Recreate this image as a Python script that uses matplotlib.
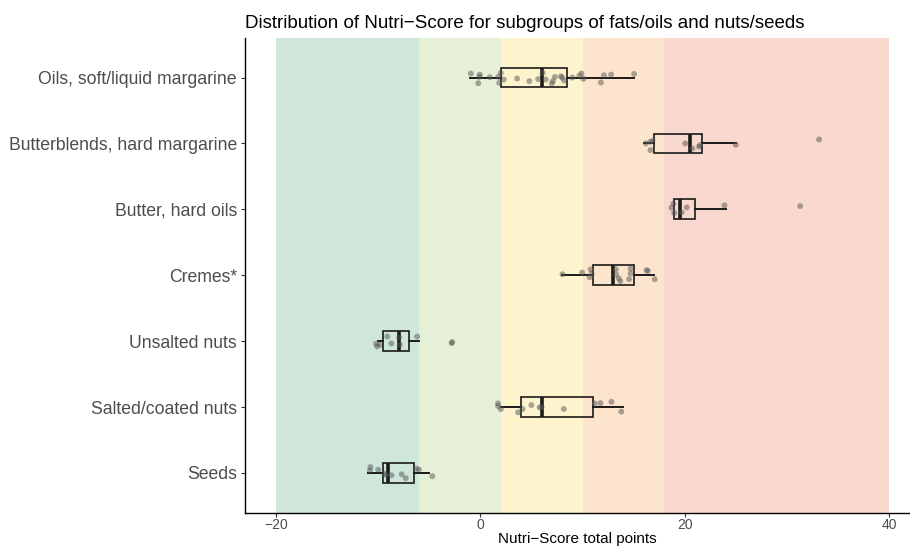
import matplotlib
matplotlib.use("Agg")
import matplotlib.pyplot as plt

plt.rcParams['font.family'] = ['Liberation Sans', 'DejaVu Sans']

categories = ["Oils, soft/liquid margarine", "Butterblends, hard margarine",
              "Butter, hard oils", "Cremes*", "Unsalted nuts",
              "Salted/coated nuts", "Seeds"]

# Box statistics per subgroup: lower whisker, Q1, median, Q3, upper whisker
whisker_lo = [-1, 16, 19, 8, -10, 2, -11]
q1 = [2, 17, 19, 11, -9.5, 4, -9.5]
median = [6, 20.5, 19.5, 13, -8, 6, -9]
q3 = [8.5, 21.7, 21, 15, -7, 11, -6.5]
whisker_hi = [15, 25, 24, 17, -6, 14, -5]

# Individual products (score, vertical jitter)
oils_pts = [-0.93, -0.05, -0.1, -0.2, 0.93, 1.75, 2.0, 1.85, 2.3, 3.6, 4.8, 5.66,
            6.1, 6.4, 7.3, 7.0, 7.1, 7.9, 8.2, 8.0, 9.0, 9.9, 10.1, 9.7, 12.1,
            12.8, 11.8, 15.05]
oils_jit = [-0.061, -0.045, -0.01, 0.086, -0.005, -0.01, -0.07, 0.08, 0.03, 0.015,
            0.055, 0.025, -0.07, 0.03, -0.01, 0.09, 0.055, -0.02, 0.045, 0.0,
            0.0, -0.061, 0.02, -0.03, -0.035, -0.045, 0.076, -0.055]

butterblend_pts = [16.2, 16.65, 16.85, 16.65, 20.05, 20.75, 21.4, 21.5, 25.0, 33.15]
butterblend_jit = [0.0, -0.025, -0.04, 0.1, 0.0, 0.076, 0.05, 0.025, 0.02, -0.06]

butter_pts = [18.7, 18.9, 18.97, 19.7, 20.2, 23.9, 31.3]
butter_jit = [-0.025, -0.086, 0.056, 0.045, -0.03, -0.06, -0.05]

cremes_pts = [8.04, 9.97, 10.8, 10.7, 10.9, 13.26, 13.3, 13.55, 13.7, 14.7, 14.56,
              14.7, 16.26, 16.4, 17.07]
cremes_jit = [-0.015, -0.04, -0.09, 0.03, -0.025, -0.09, -0.01, 0.05, 0.09, -0.1,
              0.06, -0.025, -0.076, -0.066, 0.06]

unsalted_pts = [-10.2, -10.1, -9.83, -9.1, -8.7, -7.94, -7.88, -6.18, -2.76, -2.8]
unsalted_jit = [0.04, 0.08, 0.055, -0.07, 0.035, -0.06, 0.055, -0.07, 0.015, 0.03]

salted_pts = [1.74, 1.74, 2.0, 3.7, 4.13, 5.0, 5.8, 6.0, 8.17, 11.2, 11.76, 12.83, 13.8]
salted_jit = [-0.055, -0.015, 0.03, 0.08, 0.03, -0.03, 0.005, 0.005, 0.03, -0.055,
              -0.06, -0.08, 0.07]

seeds_pts = [-10.75, -10.8, -10.0, -9.35, -9.2, -8.7, -7.7, -7.3, -6.25, -6.0, -4.7]
seeds_jit = [-0.09, -0.04, -0.05, 0.01, 0.03, 0.035, 0.02, 0.08, -0.065, -0.05, 0.05]

points = [oils_pts, butterblend_pts, butter_pts, cremes_pts, unsalted_pts,
          salted_pts, seeds_pts]
jitter = [oils_jit, butterblend_jit, butter_jit, cremes_jit, unsalted_jit,
          salted_jit, seeds_jit]

# Nutri-Score class boundaries and band colours
band_edges = [-20, -6, 2, 10, 18, 40]
band_colors = ["#CFE6DA", "#E6F0D6", "#FDF3CD", "#FDE5CD", "#F9D8D0"]

fig = plt.figure(figsize=(9.1, 5.5), dpi=100)
ax = fig.add_axes([245.3 / 910, 1 - 512.5 / 550, 1 - 245.3 / 910, (512.5 - 38) / 550])

for lo, hi, c in zip(band_edges[:-1], band_edges[1:], band_colors):
    ax.axvspan(lo, hi, color=c, lw=0, zorder=0)

positions = list(range(len(categories)))
stats = []
for i in positions:
    stats.append(dict(whislo=whisker_lo[i], q1=q1[i], med=median[i], q3=q3[i],
                      whishi=whisker_hi[i], fliers=[]))

ax.bxp(stats, positions=positions, vert=False, widths=0.3, showfliers=False,
       showcaps=False, patch_artist=True,
       boxprops=dict(facecolor="none", edgecolor="#1a1a1a", linewidth=1.2),
       whiskerprops=dict(color="#1a1a1a", linewidth=1.4),
       medianprops=dict(color="#1a1a1a", linewidth=2.6, solid_capstyle="butt"),
       zorder=3)

for i, (xs, js) in enumerate(zip(points, jitter)):
    ax.scatter(xs, [i + j for j in js], s=18, color="#555555", alpha=0.5,
               edgecolors="none", zorder=4)

ax.set_xlim(-23, 42.05)
ax.set_ylim(len(categories) - 1 + 0.6, -0.6)
ax.set_yticks(positions)
ax.set_yticklabels(categories, fontsize=12.7, color="#4D4D4D")
ax.set_xticks([-20, 0, 20, 40])
ax.set_xticklabels(["\u221220", "0", "20", "40"], fontsize=10, color="#4D4D4D")
ax.tick_params(axis="both", length=3, width=0.8, color="#333333")
ax.tick_params(axis="x", pad=1)
ax.tick_params(axis="y", pad=3)

for side in ["top", "right"]:
    ax.spines[side].set_visible(False)
for side in ["left", "bottom"]:
    ax.spines[side].set_linewidth(1.0)
    ax.spines[side].set_color("black")

ax.set_xlabel("Nutri\u2212Score total points", fontsize=11, color="black", labelpad=0)
ax.set_title("Distribution of Nutri\u2212Score for subgroups of fats/oils and nuts/seeds",
             loc="left", fontsize=13.5, color="black", pad=7, x=0.0)

fig.savefig("out.png", dpi=100)
